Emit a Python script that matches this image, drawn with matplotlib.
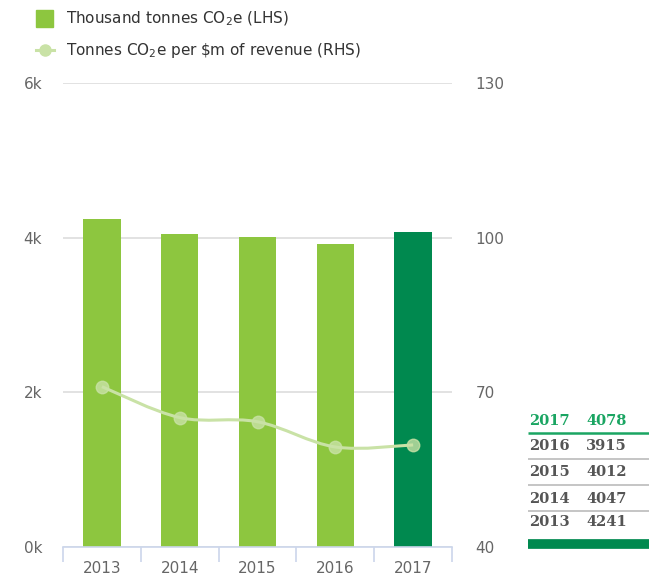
import matplotlib
matplotlib.use("Agg")
import matplotlib.pyplot as plt
from matplotlib.path import Path
from matplotlib.patches import PathPatch, Rectangle
from matplotlib.lines import Line2D

# data
years = ["2013", "2014", "2015", "2016", "2017"]
emissions = [4241, 4047, 4012, 3915, 4078]          # thousand tonnes CO2e (LHS)
intensity = [71.1, 65.1, 64.3, 59.4, 59.8]          # tonnes CO2e per $m revenue (RHS)
left_ticks = [0, 2000, 4000, 6000]
left_labels = ["0k", "2k", "4k", "6k"]
right_ticks = [40, 70, 100, 130]

light_green = "#8dc63f"
dark_green = "#00894f"
line_green = "#c9e2a6"
text_grey = "#666666"

fig = plt.figure(figsize=(6.49, 5.76), dpi=100)
ax = fig.add_axes([0.0971, 0.0503, 0.5994, 0.8057])
ax2 = ax.twinx()

x = list(range(len(years)))
colors = [light_green] * len(years)
colors[-1] = dark_green   # latest year highlighted
ax.bar(x, emissions, width=0.48, color=colors, zorder=2)

ax.set_xlim(-0.5, len(years) - 0.5)
ax.set_ylim(0, 6000)
ax.set_yticks(left_ticks)
ax.set_yticklabels(left_labels)
ax2.set_ylim(40, 130)
ax2.set_yticks(right_ticks)

# grid lines (light grey)
ax.grid(axis="y", color="#dddddd", linewidth=1.2, zorder=0)
ax.set_axisbelow(True)

for a in (ax, ax2):
    for s in a.spines.values():
        s.set_visible(False)
ax.spines["bottom"].set_visible(True)
ax.spines["bottom"].set_color("#ccd6eb")
ax.spines["bottom"].set_linewidth(1.2)

ax.tick_params(axis="y", length=0, pad=15, labelsize=11, labelcolor=text_grey)
ax2.tick_params(axis="y", length=0, pad=17, labelsize=11, labelcolor=text_grey)

# x ticks between categories
ax.set_xticks([i - 0.5 for i in range(len(years) + 1)], minor=False)
ax.set_xticklabels([""] * (len(years) + 1))
ax.tick_params(axis="x", which="major", length=11, width=1.2, color="#ccd6eb")
ax.set_xticks(x, minor=True)
ax.set_xticklabels(years, minor=True)
ax.tick_params(axis="x", which="minor", length=0, pad=10, labelsize=11, labelcolor=text_grey)

# smooth line on the right axis
pts = list(zip(x, intensity))
verts = [pts[0]]
codes = [Path.MOVETO]
k = 1.0
for i in range(len(pts) - 1):
    p0 = pts[i - 1] if i > 0 else pts[i]
    p1 = pts[i]
    p2 = pts[i + 1]
    p3 = pts[i + 2] if i + 2 < len(pts) else pts[i + 1]
    c1 = (p1[0] + (p2[0] - p0[0]) / 6 * k, p1[1] + (p2[1] - p0[1]) / 6 * k)
    c2 = (p2[0] - (p3[0] - p1[0]) / 6 * k, p2[1] - (p3[1] - p1[1]) / 6 * k)
    verts += [c1, c2, p2]
    codes += [Path.CURVE4] * 3
ax2.add_patch(PathPatch(Path(verts, codes), facecolor="none",
                        edgecolor=line_green, linewidth=2.2, zorder=3))
ax2.plot(x, intensity, linestyle="none", marker="o", markersize=9,
         color=line_green, alpha=0.8, zorder=4)

# legend (drawn by hand in figure coords)
fig.patches.append(Rectangle((36 / 649, 1 - 27 / 576), 17 / 649, 17 / 576,
                             transform=fig.transFigure, color=light_green))
fig.text(66 / 649, 1 - 19 / 576, "Thousand tonnes CO$_2$e (LHS)", fontsize=11,
         color="#333333", va="center")
fig.lines.append(Line2D([36 / 649, 54 / 649], [1 - 50 / 576] * 2,
                        transform=fig.transFigure, color=line_green, linewidth=2.2))
fig.lines.append(Line2D([45 / 649], [1 - 50 / 576], transform=fig.transFigure,
                        marker="o", markersize=8, color=line_green, linestyle="none"))
fig.text(66 / 649, 1 - 51 / 576, "Tonnes CO$_2$e per \\$m of revenue (RHS)", fontsize=11,
         color="#333333", va="center")

# small table on the right
row_y = [421, 446, 472, 499, 522]
for n, i in enumerate(reversed(range(len(years)))):
    col = "#1aa562" if n == 0 else "#555555"
    ty = 1 - row_y[n] / 576
    fig.text(529 / 649, ty, years[i], fontsize=10.5, fontweight="bold",
             family="DejaVu Serif", color=col, va="center")
    fig.text(586 / 649, ty, str(emissions[i]), fontsize=10.5, fontweight="bold",
             family="DejaVu Serif", color=col, va="center")
for yy, c, lw in [(433, "#1aa562", 1.8), (459, "#bbbbbb", 1.2),
                  (485, "#bbbbbb", 1.2), (511, "#bbbbbb", 1.2), (543.5, dark_green, 7)]:
    fig.lines.append(Line2D([528 / 649, 1.0], [1 - yy / 576] * 2,
                            transform=fig.transFigure, color=c, linewidth=lw,
                            solid_capstyle="butt"))

fig.savefig("out.png", dpi=100)
